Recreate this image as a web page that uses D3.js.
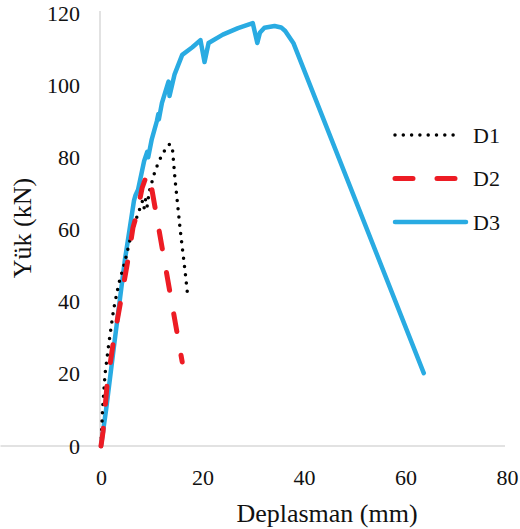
<!DOCTYPE html>
<html><head><meta charset="utf-8">
<script src="https://cdn.jsdelivr.net/npm/d3@7"></script>
<style>
body{margin:0;background:#fff;}
svg text{font-family:"Liberation Serif","Times New Roman",serif !important;fill:#111;}
</style></head>
<body><svg id="chart" width="520" height="529"></svg>
<script>
const seriesNames = ["D1","D2","D3"];
const xTicks = [0,20,40,60,80];
const yTicks = [0,20,40,60,80,100,120];
const d1X = [0,0.3,0.8,1.5,2.5,3.5,4.7,5.7,6.7,7.7,8.2,8.5,8.8,9.1,9.5,10.7,12,13.2,13.6,14.1,14.6,15.6,16.6,17];
const d1Y = [0,10,20,28,38,45,51,57,62,66,68,66,68.5,66.5,70.5,76.5,80.7,83.3,83.7,82,73.7,60,48,42.7];
const d2X = [0,0.4,1.2,2.4,3.8,5.3,6.3,7.1,8.1,9.1,9.6,16];
const d2Y = [0,4,17,28.5,39.5,51.5,60.5,64.5,71.5,75.5,74.5,23.3];
const d3X = [0,1,2.5,4.7,6.5,6.8,7.3,8.5,9.1,9.3,10,11,11.3,11.4,12,13.3,13.5,14.5,16,18,19.6,20.4,21.2,24,27,29.9,30.8,31.3,32.2,34.2,35.5,36.3,37.9,63.6];
const d3Y = [0,10,27,51.5,68,69.5,71,79,81.5,80,85,90,92,90.5,95,101,97,103,108.4,110.5,112.5,106.4,111.7,114,115.8,117.2,111.7,114.5,115.9,116.4,116,115,111.7,20.2];

const svg = d3.select("#chart");
const x = d3.scaleLinear().domain([0,80]).range([101,507]);
const y = d3.scaleLinear().domain([0,120]).range([446,13]);

const gx = svg.append("g").attr("transform","translate(0,446)")
  .call(d3.axisBottom(x).tickValues(xTicks).tickSize(0).tickPadding(23));
const gy = svg.append("g").attr("transform","translate(100,0)")
  .call(d3.axisLeft(y).tickValues(yTicks).tickSize(0).tickPadding(20));
[gx,gy].forEach(g=>{
  g.attr("font-family",null).attr("font-size",null);
  g.select(".domain").attr("stroke","#d9d9d9").attr("stroke-width",1.5);
  g.selectAll("text").style("font-size","22px").style("font-family","'Liberation Serif', serif").attr("fill","#111");
});
gy.select(".domain").attr("d","M0,11V446");
gx.select(".domain").attr("d","M0.5,0H505");

const styles = {
  D1:{stroke:"#000000",width:3.5,dash:"0,8.3",cap:"round"},
  D2:{stroke:"#ed1c24",width:5,dash:"18,24",cap:"round"},
  D3:{stroke:"#29abe2",width:4.5,dash:null,cap:"round"}
};
const data = {
  D1:d1X.map((v,i)=>[v,d1Y[i]]),
  D2:d2X.map((v,i)=>[v,d2Y[i]]),
  D3:d3X.map((v,i)=>[v,d3Y[i]])
};
const line = d3.line().x(d=>x(d[0])).y(d=>y(d[1]));
["D3","D1","D2"].forEach(k=>{
  const s=styles[k];
  svg.append("path").datum(data[k]).attr("d",line).attr("fill","none")
    .attr("stroke",s.stroke).attr("stroke-width",s.width)
    .attr("stroke-linecap",s.cap).attr("stroke-linejoin","round")
    .attr("stroke-dasharray",s.dash);
});

// legend
const lg = svg.append("g");
seriesNames.forEach((k,i)=>{
  const s=styles[k];
  const yy = 135 + i*43.5;
  lg.append("line").attr("x1",395).attr("x2",k==="D3"?466:461)
    .attr("y1",yy).attr("y2",yy).attr("stroke",s.stroke).attr("stroke-width",s.width)
    .attr("stroke-linecap",s.cap).attr("stroke-dasharray",s.dash);
  lg.append("text").attr("x",473).attr("y",yy).attr("dy","0.35em").style("font-size","22px").text(k);
});

svg.append("text").attr("x",327).attr("y",522).attr("text-anchor","middle").style("font-size","26px").text("Deplasman (mm)");
svg.append("text").attr("transform","translate(31,228) rotate(-90)").attr("text-anchor","middle").style("font-size","26px").text("Yük (kN)");
</script></body></html>
